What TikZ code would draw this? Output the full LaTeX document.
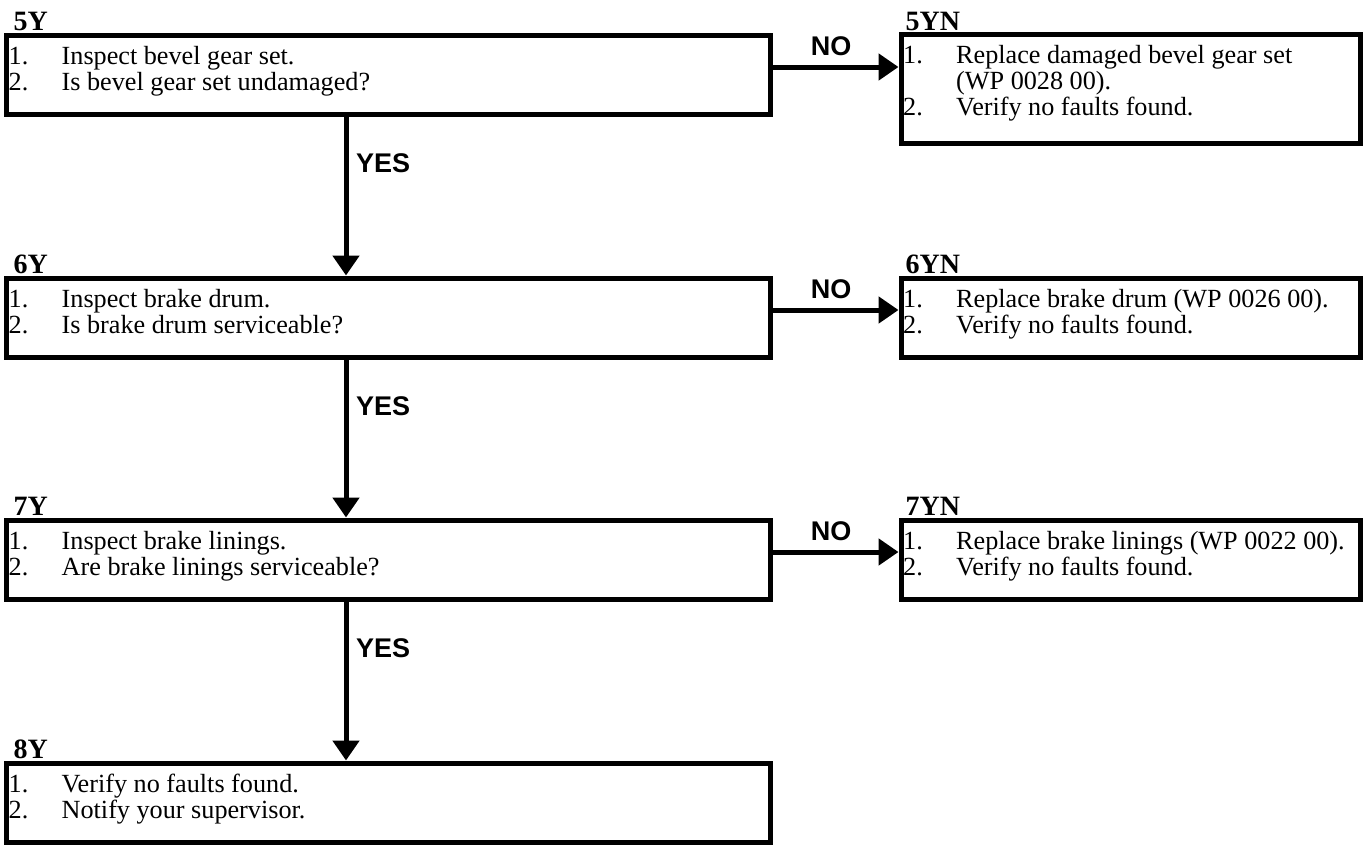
\documentclass[tikz,border=0pt]{standalone}
\usepackage{fontspec}
\setmainfont{Liberation Serif}
\newfontfamily\labsans{Liberation Sans}
\usetikzlibrary{arrows.meta}

% one numbered line of a step box: name, base-left point, number, text
\newcommand\stepline[4]{\node[linetxt] (#1) at (#2) {\makebox[53pt][l]{#3}#4};}

\begin{document}
\begin{tikzpicture}[x=1pt,y=-1pt,
  stepbox/.style={draw, line width=5pt, rectangle, anchor=north west, inner sep=0pt},
  leftbox/.style={stepbox, minimum width=763.5pt, minimum height=79pt},
  rightbox/.style={stepbox, minimum width=459pt, minimum height=79pt},
  linetxt/.style={anchor=base west, inner sep=0pt, font=\fontsize{26.2}{26}\selectfont},
  steplabel/.style={anchor=base west, inner sep=0pt, font=\bfseries\fontsize{28}{28}\selectfont},
  branch/.style={inner sep=0pt, font=\labsans\bfseries\fontsize{27}{27}\selectfont},
  flow/.style={line width=5pt, -{Triangle[length=20pt,width=26pt]}}]

\useasboundingbox (0,0) rectangle (1364,844);
\fill[white] (0,0) rectangle (1364,844);

% ---- step boxes ----
\node[leftbox] (b5) at (4,32.5) {};
\node[leftbox] (b6) at (4,275.5) {};
\node[leftbox] (b7) at (4,517.5) {};
\node[leftbox] (b8) at (4,760.5) {};
\node[rightbox, minimum height=109pt] (b5n) at (898.5,32) {};
\node[rightbox] (b6n) at (898.5,275.5) {};
\node[rightbox] (b7n) at (898.5,517.5) {};

% ---- step labels ----
\node[steplabel] (l5) at (13.5,30.5) {5Y};
\node[steplabel] (l6) at (13.5,273.5) {6Y};
\node[steplabel] (l7) at (13.5,515.5) {7Y};
\node[steplabel] (l8) at (13.5,758.5) {8Y};
\node[steplabel] (l5n) at (905.5,30) {5YN};
\node[steplabel] (l6n) at (905.5,273.5) {6YN};
\node[steplabel] (l7n) at (905.5,515.5) {7YN};

% ---- box texts ----
\stepline{t5a}{8.5,64}{1.}{Inspect bevel gear set.}
\stepline{t5b}{8.5,90}{2.}{Is bevel gear set undamaged?}
\stepline{t6a}{8.5,307}{1.}{Inspect brake drum.}
\stepline{t6b}{8.5,333}{2.}{Is brake drum serviceable?}
\stepline{t7a}{8.5,549}{1.}{Inspect brake linings.}
\stepline{t7b}{8.5,575}{2.}{Are brake linings serviceable?}
\stepline{t8a}{8.5,792}{1.}{Verify no faults found.}
\stepline{t8b}{8.5,818}{2.}{Notify your supervisor.}

\stepline{t5na}{903,63.5}{1.}{Replace damaged bevel gear set}
\stepline{t5nb}{903,89.5}{}{(WP 0028 00).}
\stepline{t5nc}{903,115.5}{2.}{Verify no faults found.}
\stepline{t6na}{903,307}{1.}{Replace brake drum (WP 0026 00).}
\stepline{t6nb}{903,333}{2.}{Verify no faults found.}
\stepline{t7na}{903,549}{1.}{Replace brake linings (WP 0022 00).}
\stepline{t7nb}{903,575}{2.}{Verify no faults found.}

% ---- YES connectors ----
\draw[flow] ([xshift=-42.25pt]b5.south) -- ([xshift=-42.25pt]b6.north);
\draw[flow] ([xshift=-42.25pt]b6.south) -- ([xshift=-42.25pt]b7.north);
\draw[flow] ([xshift=-42.25pt]b7.south) -- ([xshift=-42.25pt]b8.north);
\node[branch, anchor=west] (y5) at (356,163) {YES};
\node[branch, anchor=west] (y6) at (356,406) {YES};
\node[branch, anchor=west] (y7) at (356,648) {YES};

% ---- NO connectors ----
\draw[flow] ([yshift=-34.5pt]b5.north east) coordinate (s5) -- (s5 -| b5n.west);
\draw[flow] ([yshift=-34.5pt]b6.north east) coordinate (s6) -- (s6 -| b6n.west);
\draw[flow] ([yshift=-34.5pt]b7.north east) coordinate (s7) -- (s7 -| b7n.west);
\node[branch] (n5) at (831,46) {NO};
\node[branch] (n6) at (831,289) {NO};
\node[branch] (n7) at (831,531) {NO};
\end{tikzpicture}
\end{document}
